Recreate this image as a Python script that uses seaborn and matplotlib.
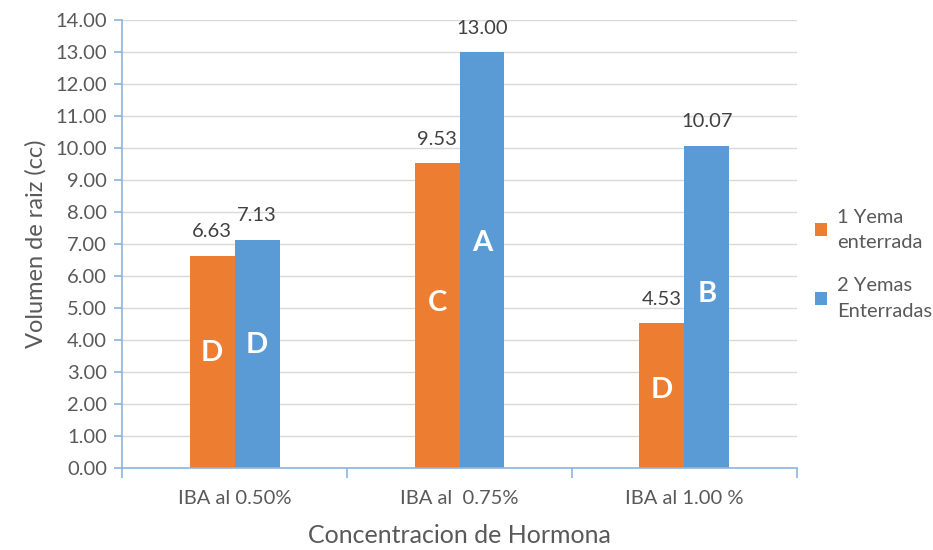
import matplotlib.pyplot as plt
import pandas as pd
import seaborn as sns
from matplotlib.ticker import FixedLocator, MultipleLocator, FormatStrFormatter

categories = ['IBA al 0.50%', 'IBA al  0.75%', 'IBA al 1.00 %']
series_names = ['1 Yema\nenterrada', '2 Yemas\nEnterradas']
una_yema = [6.63, 9.53, 4.53]
dos_yemas = [7.13, 13.00, 10.07]
letras_una = ['D', 'C', 'D']
letras_dos = ['D', 'A', 'B']

df = pd.DataFrame({
    'Concentracion': categories * 2,
    'Serie': [series_names[0]] * 3 + [series_names[1]] * 3,
    'Volumen': una_yema + dos_yemas,
})

sns.set_theme(style='white')
plt.rcParams['font.family'] = ['Lato', 'DejaVu Sans']
text_gray = '#595959'
axis_blue = '#8DB4E2'

fig = plt.figure(figsize=(9.33, 5.5), dpi=100)
ax = fig.add_axes([0.131, 0.149, 0.723, 0.815])

sns.barplot(data=df, x='Concentracion', y='Volumen', hue='Serie',
            palette=['#ED7D31', '#5B9BD5'], width=0.4, saturation=1,
            linewidth=0, ax=ax, legend=True)

ax.set_ylim(0, 14)
ax.set_xlim(-0.5, 2.5)
ax.yaxis.set_major_locator(MultipleLocator(1))
ax.yaxis.set_major_formatter(FormatStrFormatter('%.2f'))
ax.grid(axis='y', color='#D9D9D9', linewidth=1)
ax.set_axisbelow(True)

for side in ['top', 'right']:
    ax.spines[side].set_visible(False)
for side in ['left', 'bottom']:
    ax.spines[side].set_color(axis_blue)
    ax.spines[side].set_linewidth(1.2)

ax.tick_params(axis='y', which='major', length=6, color=axis_blue, labelsize=14.5,
               labelcolor=text_gray, left=True, pad=5)
ax.tick_params(axis='x', which='major', length=0, labelsize=14.5,
               labelcolor=text_gray, pad=16)
ax.xaxis.set_minor_locator(FixedLocator([-0.5, 0.5, 1.5, 2.5]))
ax.tick_params(axis='x', which='minor', length=7, color=axis_blue, bottom=True, width=1.2)

ax.set_xlabel('Concentracion de Hormona', fontsize=18, color=text_gray, labelpad=12)
ax.set_ylabel('Volumen de raiz (cc)', fontsize=17, color=text_gray, labelpad=6)

# value labels above bars
for cont in ax.containers:
    ax.bar_label(cont, fmt='%.2f', padding=11, fontsize=14.5, color='#404040')

# significance letters, roughly half way up each bar
for cont, letras in zip(ax.containers, [letras_una, letras_dos]):
    for patch, letra in zip(cont.patches, letras):
        cx = patch.get_x() + patch.get_width() / 2
        ax.text(cx, patch.get_height() * 0.54, letra, ha='center', va='center',
                color='white', fontsize=21, fontweight='bold')

leg = ax.legend(loc='center left', bbox_to_anchor=(1.0, 0.455), frameon=False,
                fontsize=14.5, handlelength=0.6, handleheight=0.6,
                handletextpad=0.5, labelspacing=1.3)
for t in leg.get_texts():
    t.set_color(text_gray)
    t.set_linespacing(1.6)

fig.savefig('out.png', dpi=100)
